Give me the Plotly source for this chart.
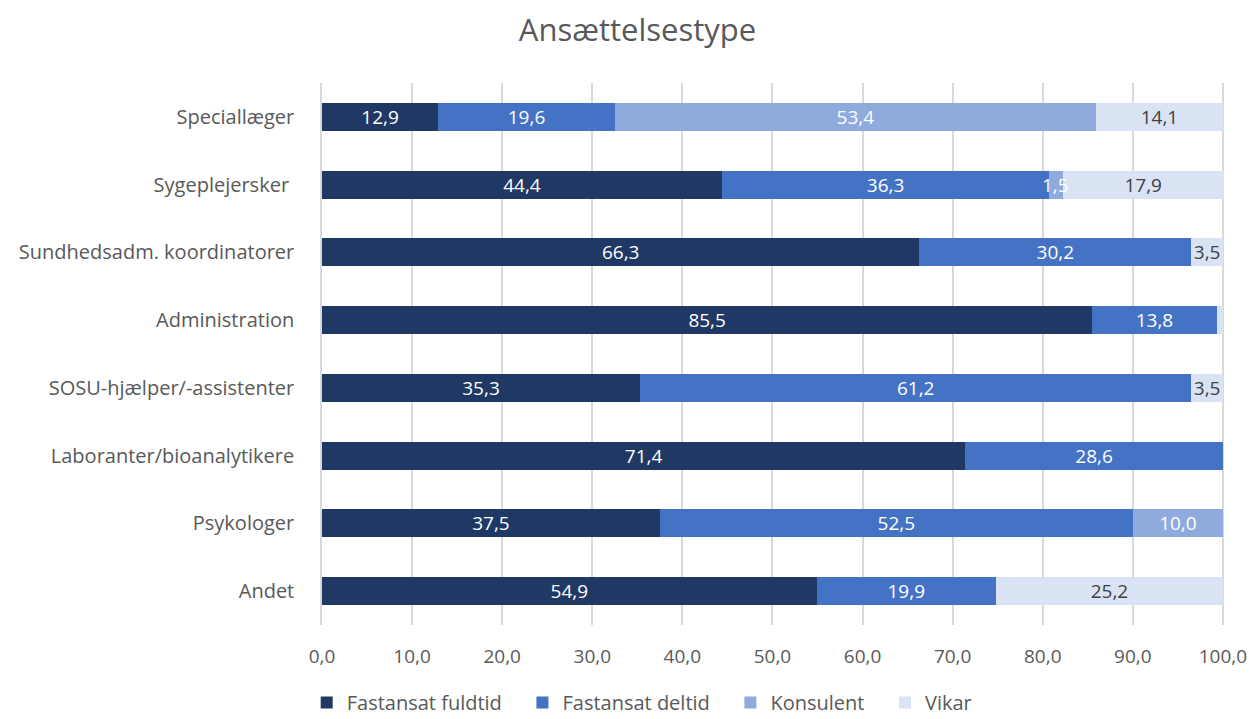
import plotly.graph_objects as go

categories = ["Speciallæger", "Sygeplejersker ", "Sundhedsadm. koordinatorer", "Administration",
              "SOSU-hjælper/-assistenter", "Laboranter/bioanalytikere", "Psykologer", "Andet"]
fuldtid = [12.9, 44.4, 66.3, 85.5, 35.3, 71.4, 37.5, 54.9]
deltid = [19.6, 36.3, 30.2, 13.8, 61.2, 28.6, 52.5, 19.9]
konsulent = [53.4, 1.5, 0, 0, 0, 0, 10.0, 0]
vikar = [14.1, 17.9, 3.5, 0.7, 3.5, 0, 0, 25.2]
x_ticks = [0, 10, 20, 30, 40, 50, 60, 70, 80, 90, 100]

series = [
    ("Fastansat fuldtid", fuldtid, "#203864", "white"),
    ("Fastansat deltid", deltid, "#4472C4", "white"),
    ("Konsulent", konsulent, "#8FAADC", "white"),
    ("Vikar", vikar, "#DAE3F3", "#404040"),
]

FONT = "Open Sans"
GRAY = "#595959"
LBL = 19

def fmt(v):
    return f"{v:.1f}".replace(".", ",")

fig = go.Figure()
starts = [0.0] * len(categories)
annotations = []
for idx, (name, vals, color, tcol) in enumerate(series):
    last = idx == len(series) - 1
    texts = []
    for i, v in enumerate(vals):
        if v >= 3 or (last and v >= 1):
            texts.append(fmt(v))
        else:
            texts.append("")
            if v >= 1:
                # narrow segment: label drawn on top so neighbouring bars don't hide it
                annotations.append(dict(x=starts[i] + v / 2, y=categories[i], text=fmt(v),
                                        showarrow=False, xref="x", yref="y",
                                        font=dict(family=FONT, size=LBL, color=tcol)))
        starts[i] += v
    fig.add_trace(go.Bar(
        y=categories, x=vals, name=name + "   " if not last else name, orientation="h",
        marker=dict(color=color, line=dict(width=0)),
        text=texts, textposition="inside", insidetextanchor="middle",
        textangle=0,
        textfont=dict(family=FONT, size=LBL, color=tcol),
        cliponaxis=False,
    ))

fig.update_layout(
    barmode="stack",
    bargap=0.59,
    width=1255, height=719,
    margin=dict(l=322, r=31, t=83, b=94, autoexpand=False),
    paper_bgcolor="white", plot_bgcolor="white",
    title=dict(text="Ansættelsestype", x=0.508, xanchor="center", y=0.958, yanchor="middle",
               font=dict(family=FONT, size=31, color=GRAY)),
    font=dict(family=FONT, color=GRAY),
    uniformtext=dict(mode="show", minsize=LBL),
    annotations=annotations,
    legend=dict(orientation="h", x=0.355, xanchor="center", y=-0.107, yanchor="top",
                font=dict(family=FONT, size=20, color=GRAY), traceorder="normal",
                itemwidth=30),
    showlegend=True,
)
fig.update_xaxes(range=[0, 100.12], tickvals=x_ticks, ticktext=[fmt(v) for v in x_ticks],
                 showgrid=True, gridcolor="#D9D9D9", gridwidth=1.5, zeroline=False,
                 showline=False, ticks="", ticklabelstandoff=18,
                 tickfont=dict(family=FONT, size=19, color=GRAY))
fig.update_yaxes(autorange="reversed", showgrid=False, showline=True, linecolor="#D9D9D9",
                 linewidth=1.5, ticks="", ticklabelstandoff=22,
                 tickfont=dict(family=FONT, size=20, color=GRAY))

fig.write_html("out.html")
